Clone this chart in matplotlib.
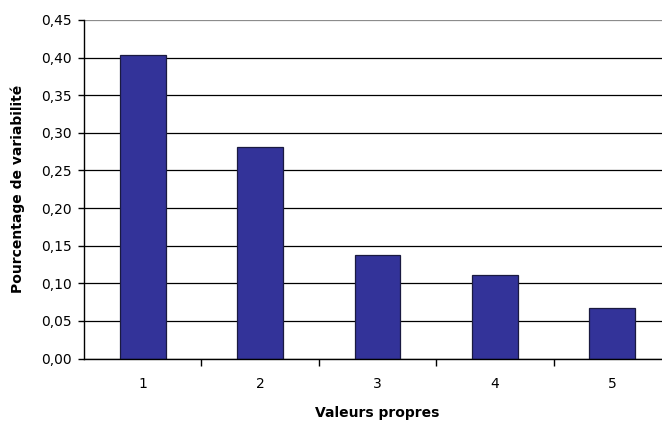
import matplotlib
matplotlib.use("Agg")
import matplotlib.pyplot as plt
from matplotlib.ticker import FixedLocator, NullFormatter, FuncFormatter

categories = ["1", "2", "3", "4", "5"]
values = [0.404, 0.281, 0.137, 0.111, 0.067]
yticks = [0.00, 0.05, 0.10, 0.15, 0.20, 0.25, 0.30, 0.35, 0.40, 0.45]

W, H = 662, 423
fig = plt.figure(figsize=(W / 100, H / 100), dpi=100)
left_px, right_px, top_px, bottom_px = 84, 671, 20, 358.5
ax = fig.add_axes([left_px / W, 1 - bottom_px / H,
                   (right_px - left_px) / W, (bottom_px - top_px) / H])

x = list(range(1, len(categories) + 1))
ax.bar(x, values, width=0.39, color="#333399", edgecolor="#1a1a40",
       linewidth=0.9, zorder=3)

ax.set_xlim(0.5, len(categories) + 0.5)
ax.set_ylim(0, 0.45)

ax.set_yticks(yticks)
ax.yaxis.set_major_formatter(FuncFormatter(lambda v, p: f"{v:.2f}".replace(".", ",")))
ax.grid(axis="y", color="black", linewidth=0.9, zorder=0)
ax.get_ygridlines()[-1].set_color("#8c8c8c")

# x: boundary ticks (major) and centered labels (minor)
ax.xaxis.set_major_locator(FixedLocator([i + 0.5 for i in x]))
ax.xaxis.set_major_formatter(NullFormatter())
ax.xaxis.set_minor_locator(FixedLocator(x))
ax.set_xticklabels(categories, minor=True)
ax.tick_params(axis="x", which="major", length=5, width=1, direction="out", color="black")
ax.tick_params(axis="x", which="minor", length=0, pad=13.5, labelsize=10)
ax.tick_params(axis="y", length=4.5, width=1, direction="out", pad=4, labelsize=10)

for s in ["top", "right"]:
    ax.spines[s].set_visible(False)
for s in ["left", "bottom"]:
    ax.spines[s].set_color("black")
    ax.spines[s].set_linewidth(1)
    ax.spines[s].set_zorder(4)

ax.set_xlabel("Valeurs propres", fontsize=10, fontweight="bold")
ax.xaxis.set_label_coords(0.5, (bottom_px - 413) / (bottom_px - top_px))
ax.xaxis.label.set_va("center")
ax.set_ylabel("Pourcentage de variabilité", fontsize=10, fontweight="bold")
ax.yaxis.set_label_coords((18 - left_px) / (right_px - left_px), 0.5)
ax.yaxis.label.set_va("center")

fig.savefig("out.png", dpi=100)
